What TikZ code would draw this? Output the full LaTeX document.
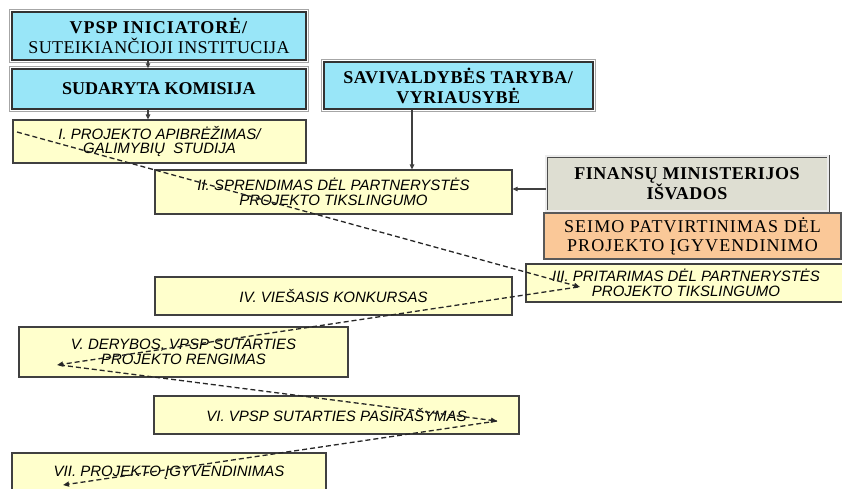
\documentclass[tikz,border=0pt]{standalone}
\usepackage{fontspec}
\setmainfont{Liberation Serif}
\newfontfamily\arialf{Liberation Sans}
\usetikzlibrary{arrows.meta}
\definecolor{cyanbox}{RGB}{153,230,248}
\definecolor{yelbox}{RGB}{255,255,204}
\definecolor{finbox}{RGB}{222,222,210}
\definecolor{orbox}{RGB}{250,200,152}
\definecolor{edge}{RGB}{64,64,64}
\newcommand{\lsp}[2]{{\addfontfeatures{LetterSpace=#1}#2}}
\tikzset{
  bluebox/.style={draw=black!80, line width=1.4pt, fill=cyanbox, inner sep=0pt, align=center,
     font=\fontsize{18}{20}\selectfont},
  outerline/.style={draw=gray!70, line width=0.8pt},
  yelbox/.style={draw=edge, line width=1.2pt, fill=yelbox, inner sep=0pt, align=center,
     font=\arialf\itshape\fontsize{15}{14.5}\selectfont},
  finstyle/.style={draw=black!70, line width=0.7pt, double=white!85!gray, double distance=1.6pt,
     fill=finbox, inner sep=0pt, align=center, font=\bfseries\fontsize{18}{20}\selectfont},
  seimostyle/.style={draw=black!65, line width=1.8pt, fill=orbox, inner sep=0pt, align=center,
     font=\fontsize{18}{19}\selectfont},
  arr/.style={draw=edge, line width=1.1pt, -{Triangle[length=5pt,width=4.5pt]}},
  darr/.style={draw=black!85, line width=1.3pt, dash pattern=on 5pt off 3pt,
     -{Triangle[length=6pt,width=5pt]}},
}
\begin{document}
\begin{tikzpicture}[x=1pt,y=-1pt]
\useasboundingbox[fill=white] (0,0) rectangle (842,488);
% blue boxes
\node[bluebox, minimum width=294, minimum height=48] (b1) at (159,36)
  {\textbf{\lsp{5.5}{VPSP INICIATORĖ/}}\\\lsp{2}{SUTEIKIANČIOJI INSTITUCIJA}};
\node[bluebox, minimum width=294, minimum height=40] (b2) at (159,89)
  {\textbf{SUDARYTA KOMISIJA}};
\node[bluebox, minimum width=269, minimum height=47] (sav) at (458.5,85.5)
  {\textbf{\lsp{3}{SAVIVALDYBĖS TARYBA/}}\\\textbf{\lsp{3}{VYRIAUSYBĖ}}};
\foreach \n in {b1,b2,sav}
  \draw[outerline] ([xshift=-2pt,yshift=2pt]\n.north west) rectangle ([xshift=2pt,yshift=-2pt]\n.south east);
% other boxes
\node[finstyle, minimum width=282, minimum height=55] (fin) at (687,183.5)
  {\lsp{3}{FINANSŲ MINISTERIJOS}\\\lsp{3}{IŠVADOS}};
\node[seimostyle, minimum width=297, minimum height=46] (seimo) at (692.5,236)
  {\lsp{6}{SEIMO PATVIRTINIMAS DĖL}\\\lsp{6}{PROJEKTO ĮGYVENDINIMO}};
% yellow boxes
\node[yelbox, minimum width=293, minimum height=43] (s1) at (159.5,141.5)
  {I. PROJEKTO APIBRĖŽIMAS/\\GALIMYBIŲ\ \ STUDIJA};
\node[yelbox, minimum width=357, minimum height=44] (s2) at (333.5,192)
  {II. SPRENDIMAS DĖL PARTNERYSTĖS\\PROJEKTO TIKSLINGUMO};
\node[yelbox, minimum width=320, minimum height=38] (s3) at (686,283)
  {III. PRITARIMAS DĖL PARTNERYSTĖS\\PROJEKTO TIKSLINGUMO};
\node[yelbox, minimum width=357, minimum height=38] (s4) at (333.5,296)
  {IV. VIEŠASIS KONKURSAS};
\node[yelbox, minimum width=329, minimum height=50] (s5) at (183.5,352)
  {V. DERYBOS, VPSP SUTARTIES\\PROJEKTO RENGIMAS};
\node[yelbox, minimum width=365, minimum height=38] (s6) at (336.5,415)
  {VI. VPSP SUTARTIES PASIRAŠYMAS};
\node[yelbox, minimum width=314, minimum height=40] (s7) at (169,473)
  {VII. PROJEKTO ĮGYVENDINIMAS};
% solid arrows
\coordinate (xa) at (148,0);
\coordinate (xb) at (412,0);
\coordinate (yf) at (0,189);
\draw[arr] (b1.south -| xa) -- (b2.north -| xa);
\draw[arr] (b2.south -| xa) -- (s1.north -| xa);
\draw[arr] (sav.south -| xb) -- (s2.north -| xb);
\draw[arr] (fin.west |- yf) -- (s2.east |- yf);
% dashed flow
\coordinate (p1) at (17,132);
\coordinate (p3) at (580,287);
\coordinate (p3s) at (578,287);
\coordinate (p5) at (57,365);
\coordinate (p5s) at (60,365);
\coordinate (p6) at (497,421);
\coordinate (p7) at (63,485);
\draw[darr] (p1) -- (p3);
\draw[darr] (p3s) -- (p5);
\draw[darr] (p5s) -- (p6);
\draw[darr] (p6) -- (p7);
\end{tikzpicture}
\end{document}
